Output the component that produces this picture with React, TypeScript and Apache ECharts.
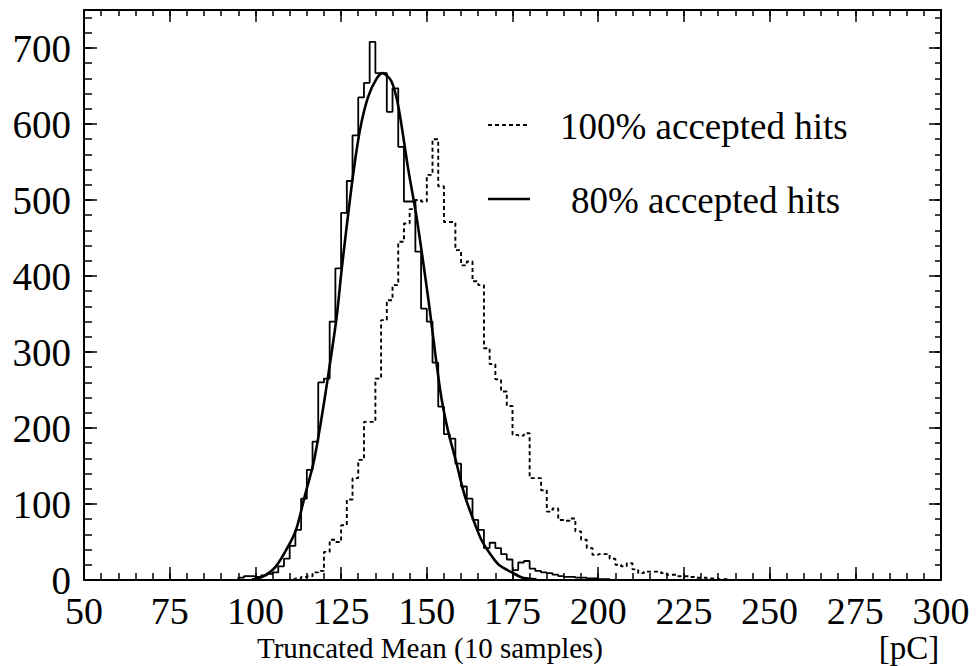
import React, { useEffect, useRef } from "react";
import * as echarts from "echarts";

// ---- data ----
const binStart = 95; // left edge of first bin [pC]
const binWidth = 5 / 3; // bin width [pC]

// 80% accepted hits histogram (solid)
const counts80 = [
  3, 5, 5, 4, 6, 8, 10, 18, 28, 45,
  66, 107, 145, 182, 260, 265, 340, 410, 483, 525,
  585, 635, 654, 708, 667, 667, 616, 647, 570, 498,
  498, 432, 357, 340, 286, 228, 192, 186, 153, 123,
  107, 79, 66, 42, 49, 42, 34, 27, 13, 23,
  25, 15, 12, 10, 9, 7, 5, 4, 4, 3,
  3, 2, 2, 1, 1, 0, 0, 0, 0, 0,
  0, 0, 0, 0, 0, 0, 0, 0, 0, 0,
  0, 0, 0, 0, 0, 0, 0,
];

// 100% accepted hits histogram (dashed)
const counts100 = [
  0, 0, 0, 0, 0, 0, 0, 0, 0, 1,
  2, 4, 5, 10, 12, 37, 53, 50, 72, 106,
  134, 158, 208, 208, 265, 342, 368, 388, 445, 469,
  488, 500, 498, 533, 580, 518, 471, 471, 434, 414,
  419, 393, 388, 305, 284, 264, 248, 229, 191, 190,
  193, 134, 134, 118, 90, 94, 79, 78, 81, 64,
  53, 42, 33, 34, 34, 28, 20, 18, 22, 14,
  9, 11, 11, 11, 9, 7, 7, 5, 5, 4,
  3, 3, 2, 2, 1, 1, 0,
];

// Gaussian fit curve of the 80% histogram
const fitX = [99, 102, 106, 110, 112, 114.5, 117, 119, 121, 123.7, 125.2, 128.3, 130.5, 132.9, 135.4, 137.1, 139.7, 141.7, 144.6, 147, 150.4, 153.9, 156, 158.7, 161, 163.6, 166, 168.4, 171, 175.2, 178, 182];
const fitY = [1, 4, 18, 48, 68, 112, 155, 205, 262, 346, 410, 526, 592, 636, 660, 667, 656, 623, 540, 478, 371, 250, 200, 153, 112, 79, 52, 35, 20, 9, 3, 1];

const xTickLabels = ["50", "75", "100", "125", "150", "175", "200", "225", "250", "275", "300"];
const yTickLabels = ["0", "100", "200", "300", "400", "500", "600", "700"];

const legendLabels = ["100% accepted hits", "80% accepted hits"];
const xTitle = "Truncated Mean (10 samples)";
const xUnit = "[pC]";

const FONT = "'Liberation Serif', 'Times New Roman', serif";

function histPoints(counts: number[]) {
  const pts: number[][] = [[binStart, 0]];
  counts.forEach((c, i) => pts.push([binStart + i * binWidth, c]));
  const end = binStart + counts.length * binWidth;
  pts.push([end, counts[counts.length - 1]]);
  pts.push([end, 0]);
  return pts;
}

export default function App() {
  const ref = useRef<HTMLDivElement>(null);
  useEffect(() => {
    if (!ref.current) return;
    const chart = echarts.init(ref.current, undefined, { renderer: "svg" });
    const black = "#000";
    const xBase = { type: "value", min: 50, max: 300, splitLine: { show: false } };
    const yBase = { type: "value", min: 0, max: 750, splitLine: { show: false } };
    const xLabelSet = new Set(xTickLabels);
    const yLabelSet = new Set(yTickLabels);
    chart.setOption({
      animation: false,
      backgroundColor: "#fff",
      grid: { left: 84, right: 37, top: 10, bottom: 86, containLabel: false, outerBoundsMode: "none" },
      xAxis: [
        {
          ...xBase, position: "bottom", interval: 25,
          axisLine: { show: true, onZero: false, lineStyle: { color: black, width: 2 } },
          axisTick: { show: true, inside: true, length: 13, lineStyle: { color: black, width: 1.5 } },
          axisLabel: {
            show: true, color: black, fontSize: 38, fontFamily: FONT, margin: 12,
            formatter: (v: number) => (xLabelSet.has(String(v)) ? String(v) : ""),
          },
        },
        {
          ...xBase, position: "bottom", interval: 5,
          axisLine: { show: false, onZero: false },
          axisTick: { show: true, inside: true, length: 7, lineStyle: { color: black, width: 1.5 } },
          axisLabel: { show: false },
        },
        {
          ...xBase, position: "top", interval: 25,
          axisLine: { show: true, onZero: false, lineStyle: { color: black, width: 2 } },
          axisTick: { show: true, inside: true, length: 12, lineStyle: { color: black, width: 1.5 } },
          axisLabel: { show: false },
        },
        {
          ...xBase, position: "top", interval: 5,
          axisLine: { show: false, onZero: false },
          axisTick: { show: true, inside: true, length: 6, lineStyle: { color: black, width: 1.5 } },
          axisLabel: { show: false },
        },
      ],
      yAxis: [
        {
          ...yBase, position: "left", interval: 100,
          axisLine: { show: true, onZero: false, lineStyle: { color: black, width: 2 } },
          axisTick: { show: true, inside: true, length: 13, lineStyle: { color: black, width: 1.5 } },
          axisLabel: {
            show: true, color: black, fontSize: 39, fontFamily: FONT, margin: 13,
            formatter: (v: number) => (yLabelSet.has(String(v)) ? String(v) : ""),
          },
        },
        {
          ...yBase, position: "left", interval: 20,
          axisLine: { show: false, onZero: false },
          axisTick: { show: true, inside: true, length: 8, lineStyle: { color: black, width: 1.5 } },
          axisLabel: { show: false },
        },
        {
          ...yBase, position: "right", interval: 100,
          axisLine: { show: true, onZero: false, lineStyle: { color: black, width: 2 } },
          axisTick: { show: true, inside: true, length: 12, lineStyle: { color: black, width: 1.5 } },
          axisLabel: { show: false },
        },
        {
          ...yBase, position: "right", interval: 20,
          axisLine: { show: false, onZero: false },
          axisTick: { show: true, inside: true, length: 6, lineStyle: { color: black, width: 1.5 } },
          axisLabel: { show: false },
        },
      ],
      series: [
        {
          name: legendLabels[0], type: "line", xAxisIndex: 0, yAxisIndex: 0,
          step: "end", symbol: "none", data: histPoints(counts100),
          lineStyle: { color: black, width: 1.9, type: [4, 3] },
          z: 3,
        },
        {
          name: legendLabels[1], type: "line", xAxisIndex: 0, yAxisIndex: 0,
          step: "end", symbol: "none", data: histPoints(counts80),
          lineStyle: { color: black, width: 1.8 },
          z: 4,
        },
        {
          name: "fit", type: "line", xAxisIndex: 0, yAxisIndex: 0,
          smooth: 0.3, symbol: "none", data: fitX.map((x, i) => [x, fitY[i]]),
          lineStyle: { color: black, width: 2.6 },
          z: 5,
        },
      ],
      graphic: [
        { type: "line", shape: { x1: 488, y1: 125, x2: 530, y2: 125 }, style: { stroke: black, lineWidth: 2, lineDash: [4, 3] } },
        { type: "text", x: 560, y: 126, style: { text: legendLabels[0], font: `37px ${FONT}`, fill: black, textVerticalAlign: "middle", verticalAlign: "middle" } },
        { type: "line", shape: { x1: 488, y1: 199, x2: 530, y2: 199 }, style: { stroke: black, lineWidth: 2.6 } },
        { type: "text", x: 571, y: 200, style: { text: legendLabels[1], font: `37px ${FONT}`, fill: black, textVerticalAlign: "middle", verticalAlign: "middle" } },
        { type: "text", x: 430, y: 648, style: { text: xTitle, font: `29px ${FONT}`, fill: black, align: "center", textAlign: "center", verticalAlign: "middle", textVerticalAlign: "middle" } },
        { type: "text", x: 909, y: 648, style: { text: xUnit, font: `33px ${FONT}`, fill: black, align: "center", textAlign: "center", verticalAlign: "middle", textVerticalAlign: "middle" } },
      ],
    });
    return () => chart.dispose();
  }, []);
  return (
    <div
      ref={ref}
      style={{ position: "fixed", left: 0, top: 0, width: 978, height: 666, background: "#fff" }}
    />
  );
}
